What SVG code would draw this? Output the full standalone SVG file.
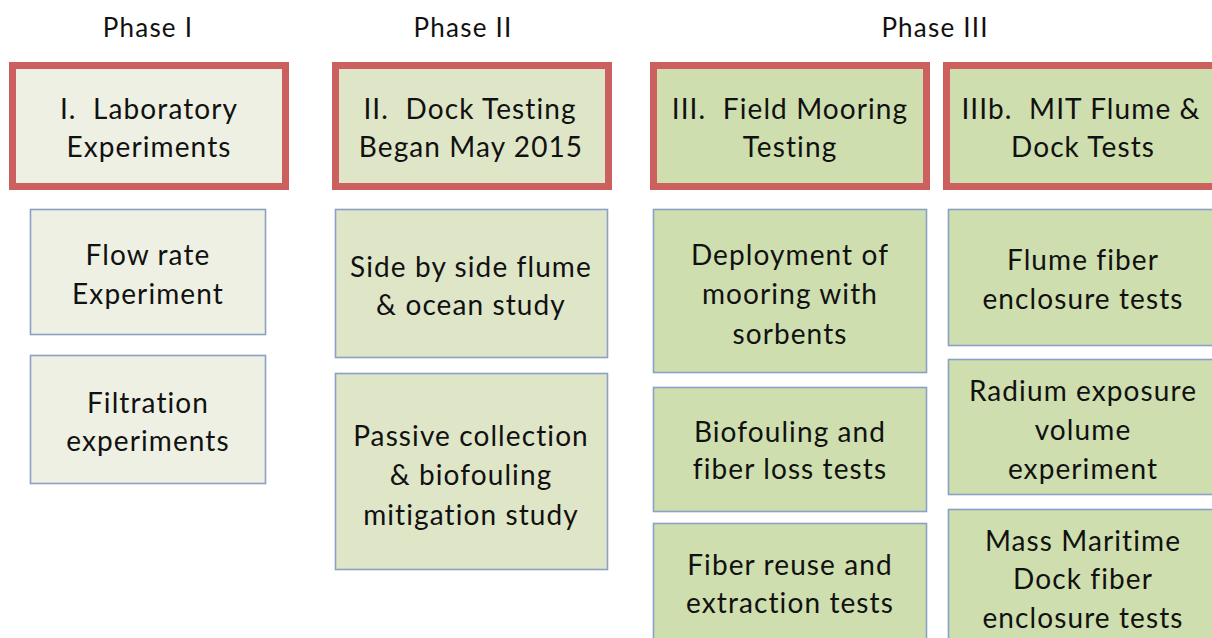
<svg xmlns="http://www.w3.org/2000/svg" width="1212" height="638" viewBox="0 0 1212 638">
<style>
text{font-family:Lato,"Open Sans","Liberation Sans",sans-serif;fill:#111;text-anchor:middle;white-space:pre}
.ph{font-size:26px;letter-spacing:1.2px}
.t{font-size:28px;letter-spacing:1.1px}
.hdr{stroke:#CC605E;stroke-width:7}
.sub{stroke:#8AA0C4;stroke-width:1.6}
.c1{fill:#EEF0E3}
.c2{fill:#DFE6C8}
.c3{fill:#CEDEAE}
</style>
<rect width="1212" height="638" fill="#FFFFFF"/>
<g id="phase-labels">
<text class="ph" x="148" y="37">Phase I</text>
<text class="ph" x="463" y="37">Phase II</text>
<text class="ph" x="935" y="37">Phase III</text>
</g>
<g id="h1"><rect class="hdr c1" x="12.5" y="65.5" width="273" height="121"/><text class="t" x="149" y="119">I.  Laboratory</text><text class="t" x="149" y="157">Experiments</text></g>
<g id="h2"><rect class="hdr c2" x="335.5" y="65.5" width="273" height="121"/><text class="t" x="470" y="119">II.  Dock Testing</text><text class="t" x="471" y="157">Began May 2015</text></g>
<g id="h3"><rect class="hdr c3" x="653.5" y="65.5" width="273" height="121"/><text class="t" x="790" y="119">III.  Field Mooring</text><text class="t" x="790" y="157">Testing</text></g>
<g id="h4"><rect class="hdr c3" x="946.5" y="65.5" width="280" height="121"/><text class="t" x="1081" y="119">IIIb.  MIT Flume &amp;</text><text class="t" x="1083" y="157">Dock Tests</text></g>
<g id="p1a"><rect class="sub c1" x="30.5" y="209.5" width="235" height="125"/><text class="t" x="148" y="265">Flow rate</text><text class="t" x="148" y="304">Experiment</text></g>
<g id="p1b"><rect class="sub c1" x="30.5" y="355.5" width="235" height="128"/><text class="t" x="148" y="413">Filtration</text><text class="t" x="148" y="451">experiments</text></g>
<g id="p2a"><rect class="sub c2" x="335.5" y="209.5" width="272" height="148"/><text class="t" x="471" y="277">Side by side flume</text><text class="t" x="471" y="315">&amp; ocean study</text></g>
<g id="p2b"><rect class="sub c2" x="335.5" y="373.5" width="272" height="196"/><text class="t" x="471" y="446">Passive collection</text><text class="t" x="471" y="485">&amp; biofouling</text><text class="t" x="471" y="525">mitigation study</text></g>
<g id="p3a"><rect class="sub c3" x="653.5" y="209.5" width="273" height="163"/><text class="t" x="790" y="265">Deployment of</text><text class="t" x="790" y="304">mooring with</text><text class="t" x="790" y="344">sorbents</text></g>
<g id="p3b"><rect class="sub c3" x="653.5" y="387.5" width="273" height="124"/><text class="t" x="790" y="442">Biofouling and</text><text class="t" x="790" y="479">fiber loss tests</text></g>
<g id="p3c"><rect class="sub c3" x="653.5" y="523.5" width="273" height="130"/><text class="t" x="790" y="575">Fiber reuse and</text><text class="t" x="790" y="613">extraction tests</text></g>
<g id="p4a"><rect class="sub c3" x="948.5" y="209.5" width="280" height="136"/><text class="t" x="1083" y="270">Flume fiber</text><text class="t" x="1083" y="309">enclosure tests</text></g>
<g id="p4b"><rect class="sub c3" x="948.5" y="359.5" width="280" height="135"/><text class="t" x="1083" y="401">Radium exposure</text><text class="t" x="1083" y="440">volume</text><text class="t" x="1083" y="479">experiment</text></g>
<g id="p4c"><rect class="sub c3" x="948.5" y="509.5" width="280" height="140"/><text class="t" x="1083" y="551">Mass Maritime</text><text class="t" x="1083" y="589">Dock fiber</text><text class="t" x="1083" y="628">enclosure tests</text></g>
<g id="connectors"></g>
</svg>
